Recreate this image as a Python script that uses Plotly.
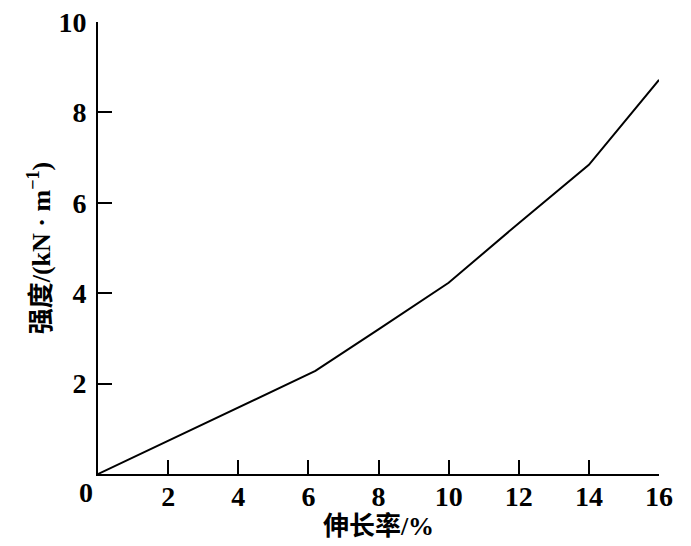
import plotly.graph_objects as go

# elongation (%) vs strength (kN/m)
elongation = [0, 2, 4, 6.2, 8, 10, 12, 14, 16]
strength = [0, 0.73, 1.47, 2.28, 3.2, 4.23, 5.55, 6.84, 8.72]

x_ticks = [2, 4, 6, 8, 10, 12, 14, 16]
y_ticks = [2, 4, 6, 8, 10]

num_font = dict(family="Liberation Serif", size=28, color="black")
title_font = dict(family="Liberation Serif, Noto Sans CJK SC", size=26, color="black")

fig = go.Figure()
fig.add_trace(go.Scatter(x=elongation, y=strength, mode="lines",
                         line=dict(color="black", width=2), showlegend=False))

fig.update_xaxes(range=[0, 16], tickvals=x_ticks, ticktext=[f"<b>{v}</b>" for v in x_ticks],
                 ticks="inside", ticklen=14, tickwidth=2, tickcolor="black",
                 showline=True, linecolor="black", linewidth=2, showgrid=False, zeroline=False,
                 tickfont=num_font, automargin=False, ticklabelstandoff=-4,
                 title=dict(text="<b>伸长率/%</b>", font=title_font, standoff=0))
fig.update_yaxes(range=[0, 10], tickvals=y_ticks, ticktext=[f"<b>{v}</b>" for v in y_ticks],
                 ticks="inside", ticklen=14, tickwidth=2, tickcolor="black",
                 showline=True, linecolor="black", linewidth=2, showgrid=False, zeroline=False,
                 tickfont=num_font, automargin=False, ticklabelstandoff=4,
                 title=dict(text="<b>强度/(kN · m<sup>−1</sup>)</b>", font=title_font, standoff=0))

fig.add_annotation(text="<b>0</b>", xref="paper", yref="paper", x=0, y=0,
                   xanchor="right", yanchor="top", xshift=-3, yshift=-1,
                   showarrow=False, font=num_font)

fig.update_layout(width=691, height=546, margin=dict(l=98, r=32, t=22, b=72),
                  plot_bgcolor="white", paper_bgcolor="white")

fig.write_html("out.html", config={"displayModeBar": False},
               post_script="document.body.style.margin='0';")
